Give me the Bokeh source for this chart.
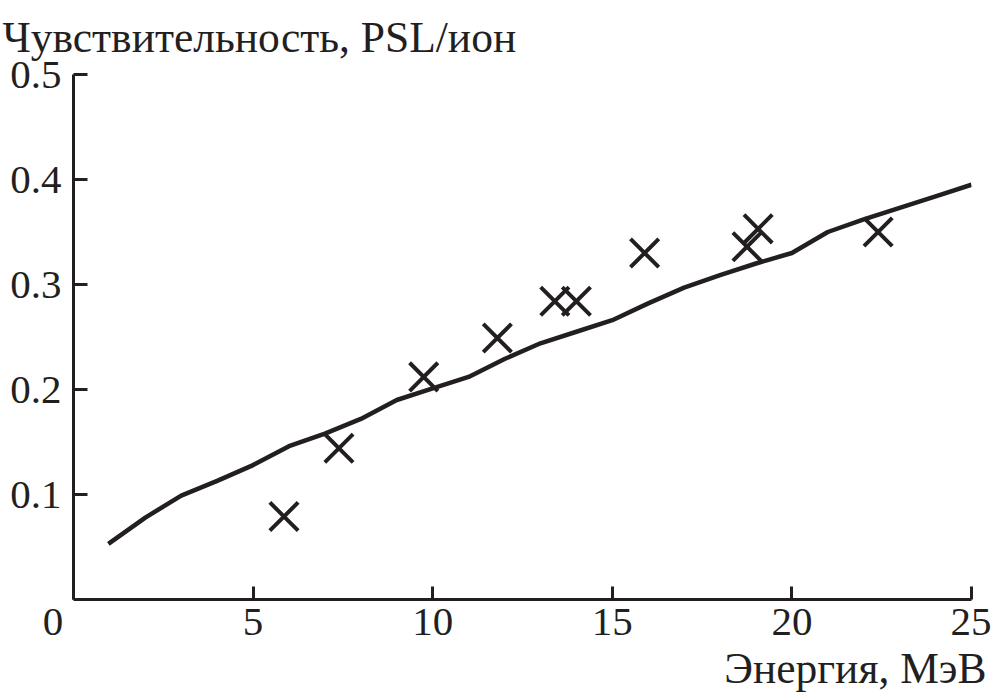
from bokeh.plotting import figure
from bokeh.models import Title, FixedTicker, Range1d
from bokeh.embed import file_html
from bokeh.resources import INLINE

# Calculated curve
curve_energy = [0.97, 2, 3, 4, 5, 6, 7, 8, 9, 10, 11, 12, 13, 14, 15, 16, 17, 18, 19, 20, 21, 22, 23, 24, 25]
curve_sens = [0.053, 0.078, 0.099, 0.113, 0.128, 0.146, 0.158, 0.172, 0.190, 0.201, 0.212, 0.229,
              0.244, 0.255, 0.266, 0.282, 0.297, 0.309, 0.320, 0.330, 0.350, 0.362, 0.373, 0.384, 0.395]

# Measured points
meas_energy = [5.86, 7.39, 9.75, 11.8, 13.4, 14.0, 15.9, 18.75, 19.06, 22.4]
meas_sens = [0.079, 0.144, 0.212, 0.249, 0.284, 0.284, 0.330, 0.336, 0.353, 0.350]

x_ticks = [0, 5, 10, 15, 20, 25]
y_ticks = [0.1, 0.2, 0.3, 0.4, 0.5]

title_text = "Чувствительность, PSL/ион"
xlabel_text = "Энергия, МэВ"

INK = "#231f20"
FONT = "Liberation Serif"
FS = "41px"
FS_LABEL = "43.5px"

p = figure(frame_width=898, frame_height=525,
           x_range=Range1d(0, 25), y_range=Range1d(0, 0.5),
           output_backend="svg", toolbar_location=None,
           min_border_left=73, min_border_right=20, min_border_top=73, min_border_bottom=99)

p.outline_line_color = None
p.grid.visible = False
p.background_fill_color = "white"
p.border_fill_color = "white"

p.line(curve_energy, curve_sens, line_color=INK, line_width=4.5, line_join="round")
p.scatter(meas_energy, meas_sens, marker="x", size=40, line_color=INK, line_width=4)

for ax in (p.xaxis[0], p.yaxis[0]):
    ax.axis_line_color = INK
    ax.axis_line_width = 3
    ax.major_tick_line_color = INK
    ax.major_tick_line_width = 3
    ax.major_tick_out = 0
    ax.minor_tick_line_color = None
    ax.major_label_text_font = FONT
    ax.major_label_text_font_size = FS
    ax.major_label_text_color = INK

p.xaxis[0].ticker = FixedTicker(ticks=x_ticks)
p.xaxis[0].major_tick_in = 13
p.xaxis[0].major_label_standoff = -2
p.xaxis[0].major_label_overrides = {0: "0\u00a0\u00a0\u00a0\u00a0"}

p.yaxis[0].ticker = FixedTicker(ticks=y_ticks)
p.yaxis[0].major_tick_in = 14
p.yaxis[0].major_label_standoff = 12

p.title = Title(text=title_text, align="left", offset=-71, vertical_align="top",
                text_font=FONT, text_font_size=FS_LABEL, text_font_style="normal",
                text_color=INK, standoff=24)

p.add_layout(Title(text=xlabel_text, align="right", offset=-15,
                   text_font=FONT, text_font_size=FS_LABEL, text_font_style="normal",
                   text_color=INK, standoff=-10), "below")

open("out.html", "w").write(file_html(p, INLINE))
